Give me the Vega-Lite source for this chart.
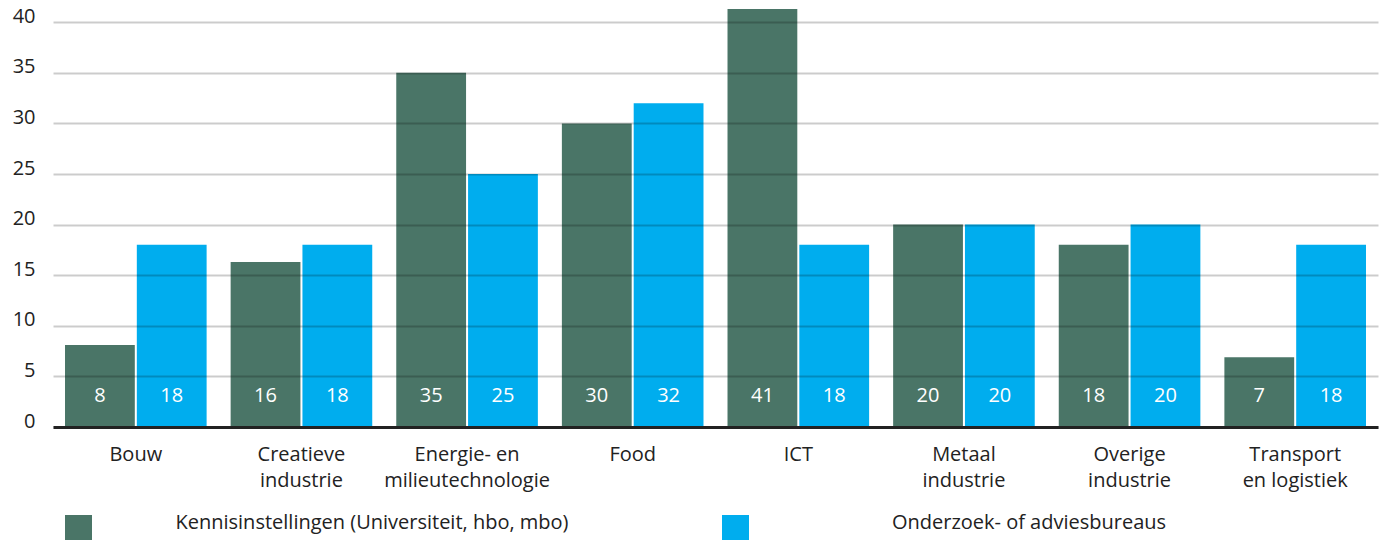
{
  "$schema": "https://vega.github.io/schema/vega-lite/v6.json",
  "width": 1325,
  "height": 425,
  "autosize": {"type": "none"},
  "padding": {"left": 53, "top": 2, "right": 9, "bottom": 113},
  "background": "white",
  "config": {
    "font": "Open Sans",
    "view": {"stroke": null},
    "axis": {"labelFont": "Open Sans", "labelColor": "#222222", "labelFontSize": 20}
  },
  "data": {
    "values": [
      {"cat": "Bouw", "type": "Kennisinstellingen (Universiteit, hbo, mbo)", "value": 8.1},
      {"cat": "Bouw", "type": "Onderzoek- of adviesbureaus", "value": 18},
      {"cat": "Creatieve|industrie", "type": "Kennisinstellingen (Universiteit, hbo, mbo)", "value": 16.3},
      {"cat": "Creatieve|industrie", "type": "Onderzoek- of adviesbureaus", "value": 18},
      {"cat": "Energie- en|milieutechnologie", "type": "Kennisinstellingen (Universiteit, hbo, mbo)", "value": 35},
      {"cat": "Energie- en|milieutechnologie", "type": "Onderzoek- of adviesbureaus", "value": 25},
      {"cat": "Food", "type": "Kennisinstellingen (Universiteit, hbo, mbo)", "value": 30},
      {"cat": "Food", "type": "Onderzoek- of adviesbureaus", "value": 32},
      {"cat": "ICT", "type": "Kennisinstellingen (Universiteit, hbo, mbo)", "value": 41.3},
      {"cat": "ICT", "type": "Onderzoek- of adviesbureaus", "value": 18},
      {"cat": "Metaal|industrie", "type": "Kennisinstellingen (Universiteit, hbo, mbo)", "value": 20},
      {"cat": "Metaal|industrie", "type": "Onderzoek- of adviesbureaus", "value": 20},
      {"cat": "Overige|industrie", "type": "Kennisinstellingen (Universiteit, hbo, mbo)", "value": 18},
      {"cat": "Overige|industrie", "type": "Onderzoek- of adviesbureaus", "value": 20},
      {"cat": "Transport|en logistiek", "type": "Kennisinstellingen (Universiteit, hbo, mbo)", "value": 6.9},
      {"cat": "Transport|en logistiek", "type": "Onderzoek- of adviesbureaus", "value": 18}
    ]
  },
  "encoding": {
    "x": {
      "field": "cat", "type": "nominal", "sort": null,
      "scale": {"paddingInner": 0.145, "paddingOuter": 0.0725},
      "axis": {
        "title": null, "labelAngle": 0, "ticks": false,
        "labelExpr": "split(datum.label, '|')",
        "labelLineHeight": 26, "labelPadding": 17,
        "domainColor": "#222222", "domainWidth": 3,
        "grid": false, "zindex": 2
      }
    },
    "xOffset": {
      "field": "type", "type": "nominal",
      "scale": {"paddingInner": 0.028}
    }
  },
  "layer": [
    {
      "mark": {"type": "bar"},
      "encoding": {
        "y": {
          "field": "value", "type": "quantitative",
          "scale": {"domain": [0, 42], "nice": false},
          "axis": {
            "title": null, "values": [0, 5, 10, 15, 20, 25, 30, 35, 40],
            "domain": false, "ticks": false,
            "labelPadding": 18, "labelBaseline": "alphabetic",
            "gridColor": "#000000", "gridOpacity": 0.2, "gridWidth": 2,
            "zindex": 1
          }
        },
        "color": {
          "field": "type", "type": "nominal",
          "scale": {"range": ["#4a7567", "#00adee"]},
          "legend": {
            "title": null, "orient": "none", "direction": "horizontal",
            "legendX": 12, "legendY": 513,
            "symbolType": "square", "symbolSize": 729, "symbolStrokeWidth": 0,
            "symbolOpacity": 1,
            "labelAlign": "center", "labelBaseline": "alphabetic",
            "labelOffset": 280, "columnPadding": 153,
            "labelFontSize": 20, "labelColor": "#222222", "labelFont": "Open Sans",
            "labelLimit": 600
          }
        }
      }
    },
    {
      "mark": {"type": "text", "color": "white", "fontSize": 20, "baseline": "middle", "dy": -31},
      "encoding": {
        "y": {"datum": 0, "type": "quantitative"},
        "text": {"field": "value", "type": "quantitative", "format": ".0f"}
      }
    }
  ]
}
